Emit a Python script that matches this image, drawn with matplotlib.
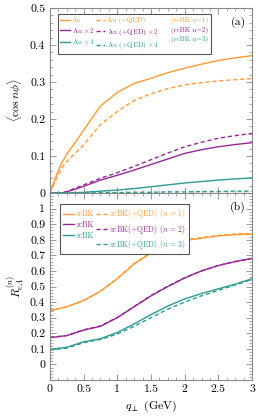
import matplotlib
matplotlib.use('Agg')
import matplotlib.pyplot as plt
from matplotlib.lines import Line2D
from matplotlib.ticker import MultipleLocator, FixedLocator, FuncFormatter

plt.rcParams['font.family'] = 'serif'
plt.rcParams['font.serif'] = ['cmr10']
plt.rcParams['mathtext.fontset'] = 'cm'
plt.rcParams['axes.formatter.use_mathtext'] = True

# colours of the three harmonics
c1, c2, c3 = '#ff9a33', '#962896', '#2a9a92'

# panel (a): <cos n phi>
qa = [0, 0.05, 0.1, 0.17, 0.25, 0.4, 0.5, 0.75, 1.0, 1.25, 1.5, 1.75, 2.0, 2.25, 2.5, 2.75, 3.0]
au1 = [0, 0.025, 0.05, 0.08, 0.105, 0.143, 0.17, 0.235, 0.272, 0.296, 0.31, 0.325, 0.337, 0.348, 0.358, 0.365, 0.371]
au1_qed = [0, 0.02, 0.04, 0.067, 0.085, 0.112, 0.13, 0.185, 0.22, 0.25, 0.268, 0.282, 0.292, 0.298, 0.303, 0.306, 0.309]
au2 = [0, 0, 0, 0, 0.003, 0.012, 0.018, 0.035, 0.048, 0.062, 0.077, 0.092, 0.107, 0.117, 0.125, 0.131, 0.136]
au2_qed = [0, 0, 0, 0, 0.004, 0.015, 0.022, 0.04, 0.055, 0.072, 0.09, 0.108, 0.125, 0.137, 0.148, 0.155, 0.161]
au3 = [0, 0, 0, 0, 0, 0.001, 0.002, 0.005, 0.008, 0.012, 0.017, 0.022, 0.027, 0.031, 0.035, 0.038, 0.041]
au3_qed = [0, 0, 0, 0, 0, 0, 0, 0.001, 0.001, 0.002, 0.002, 0.003, 0.003, 0.004, 0.004, 0.005, 0.005]

# panel (b): R_eA^(n)
qb = [0, 0.25, 0.5, 0.75, 1.0, 1.25, 1.5, 1.75, 2.0, 2.25, 2.5, 2.75, 3.0]
r1 = [0.345, 0.37, 0.41, 0.47, 0.55, 0.645, 0.715, 0.765, 0.795, 0.81, 0.825, 0.833, 0.836]
r1_qed = [0.345, 0.37, 0.41, 0.47, 0.552, 0.648, 0.718, 0.768, 0.798, 0.814, 0.828, 0.837, 0.84]
r2 = [0.172, 0.185, 0.22, 0.245, 0.30, 0.37, 0.44, 0.50, 0.555, 0.60, 0.635, 0.66, 0.68]
r2_qed = [0.172, 0.186, 0.222, 0.247, 0.302, 0.372, 0.442, 0.502, 0.556, 0.60, 0.635, 0.66, 0.68]
r3 = [0.097, 0.11, 0.145, 0.165, 0.205, 0.26, 0.32, 0.375, 0.42, 0.455, 0.485, 0.515, 0.55]
r3_qed = [0.092, 0.105, 0.14, 0.16, 0.195, 0.245, 0.30, 0.355, 0.40, 0.44, 0.475, 0.51, 0.545]

yticks_a = [0, 0.1, 0.2, 0.3, 0.4, 0.5]
yticks_b = [0, 0.1, 0.2, 0.3, 0.4, 0.5, 0.6, 0.7, 0.8, 0.9, 1.0]

fig = plt.figure(figsize=(2.59, 4.16), dpi=100)
ax1 = fig.add_axes([0.193, 0.536, 0.780, 0.445])
ax2 = fig.add_axes([0.193, 0.0865, 0.780, 0.4495], sharex=ax1)

lw = 1.0
ds = (3, 2)
ax1.plot(qa, au1, color=c1, lw=lw)
ax1.plot(qa, au1_qed, color=c1, lw=lw, dashes=ds)
ax1.plot(qa, au2, color=c2, lw=lw)
ax1.plot(qa, au2_qed, color=c2, lw=lw, dashes=ds)
ax1.plot(qa, au3, color=c3, lw=lw)
ax1.plot(qa, au3_qed, color=c3, lw=lw, dashes=ds)

ax2.plot(qb, r1, color=c1, lw=lw)
ax2.plot(qb, r1_qed, color=c1, lw=lw, dashes=ds)
ax2.plot(qb, r2, color=c2, lw=lw)
ax2.plot(qb, r2_qed, color=c2, lw=lw, dashes=ds)
ax2.plot(qb, r3, color=c3, lw=lw)
ax2.plot(qb, r3_qed, color=c3, lw=lw, dashes=ds)

fmt = FuncFormatter(lambda v, p: '%g' % round(v, 3))
for ax in (ax1, ax2):
    ax.set_xlim(0, 3)
    ax.xaxis.set_major_locator(MultipleLocator(0.5))
    ax.xaxis.set_minor_locator(MultipleLocator(0.125))
    ax.yaxis.set_minor_locator(MultipleLocator(0.02))
    ax.yaxis.set_major_formatter(fmt)
    ax.tick_params(which='both', direction='in', top=True, right=True,
                   color='#888888', labelsize=8.5)
    ax.tick_params(which='major', length=4, width=0.6)
    ax.tick_params(which='minor', length=2, width=0.5)
    for s in ax.spines.values():
        s.set_color('#888888')
        s.set_linewidth(0.8)

ax1.set_ylim(0, 0.5)
ax2.set_ylim(-0.1, 1.1)
ax1.yaxis.set_major_locator(FixedLocator(yticks_a))
ax2.yaxis.set_major_locator(FixedLocator(yticks_b))
ax2.xaxis.set_major_formatter(fmt)
ax1.tick_params(labelbottom=False)

ax1.set_ylabel(r'$\langle \cos n\phi \rangle$', fontsize=8.5, labelpad=4)
ax2.set_ylabel(r'$R^{(n)}_{eA}$', fontsize=8.5, labelpad=2)
ax2.set_xlabel(r'$q_\perp$ (GeV)', fontsize=8.5, labelpad=3)

ax1.text(0.97, 0.95, '(a)', transform=ax1.transAxes, ha='right', va='top', fontsize=8.5)
ax2.text(0.97, 0.955, '(b)', transform=ax2.transAxes, ha='right', va='top', fontsize=8.5)

# legend (a): three columns, last one text only
cols = [c1, c2, c3]
h_solid = [Line2D([], [], color=c, lw=lw) for c in cols]
h_dash = [Line2D([], [], color=c, lw=lw, dashes=ds) for c in cols]
h_none = [Line2D([], [], alpha=0) for c in cols]
lab_a = ['Au', r'Au $\times$2', r'Au $\times$4',
         'Au (+QED)', r'Au (+QED) $\times$2', r'Au (+QED) $\times$4',
         '(rcBK n=1)', '(rcBK n=2)', '(rcBK n=3)']
leg = ax1.legend(h_solid + h_dash + h_none, lab_a, ncol=3, loc='upper left',
                 bbox_to_anchor=(0.02, 0.985), fontsize=5.1, fancybox=False,
                 edgecolor='#555555', framealpha=1, handlelength=1.3,
                 handletextpad=0.3, columnspacing=0.2, labelspacing=0.35,
                 borderpad=0.4)
leg.get_frame().set_linewidth(0.8)
for i, t in enumerate(leg.get_texts()):
    t.set_color(cols[i % 3])

# legend (b)
lab_b = ['rcBK', 'rcBK', 'rcBK',
         r'rcBK(+QED) ($n$ = 1)', r'rcBK(+QED) ($n$ = 2)', r'rcBK(+QED) ($n$ = 3)']
leg2 = ax2.legend(h_solid + h_dash, lab_b, ncol=2, loc='upper left',
                  bbox_to_anchor=(0.03, 0.96), fontsize=5.5, fancybox=False,
                  edgecolor='#555555', framealpha=1, handlelength=1.5,
                  handletextpad=0.35, columnspacing=0.25, labelspacing=0.3,
                  borderpad=0.4)
leg2.get_frame().set_linewidth(0.8)
for i, t in enumerate(leg2.get_texts()):
    t.set_color(cols[i % 3])

fig.savefig('out.png', dpi=100)
